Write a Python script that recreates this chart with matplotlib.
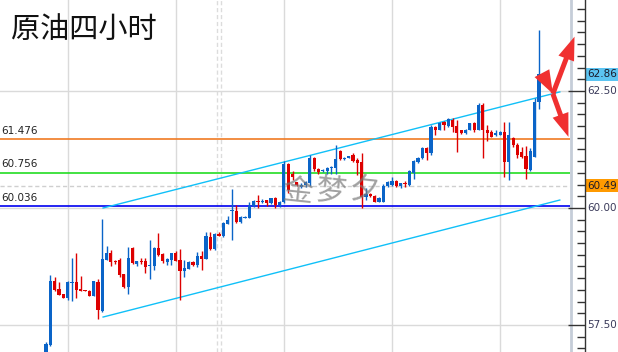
import matplotlib
matplotlib.use('Agg')
import matplotlib.pyplot as plt
from matplotlib.transforms import blended_transform_factory
from matplotlib.patches import Rectangle
import numpy as np

plt.rcParams['font.family'] = ['DejaVu Sans']

# ---------------- data (crude oil, 4-hour bars) ----------------
opens = [56.79, 57.07, 58.44, 58.27, 58.16, 58.08, 58.40, 58.42, 58.27, 58.25,
         58.23, 58.13, 58.42, 57.80, 58.89, 59.04, 58.87, 58.89, 58.59, 58.31,
         59.15, 58.81, 58.87, 58.87, 58.75, 58.75, 59.15, 59.02, 58.85, 58.89,
         59.04, 58.89, 58.66, 58.70, 58.85, 58.78, 58.97, 58.92, 59.39, 59.12,
         59.45, 59.40, 59.66, 59.94, 59.94, 59.70, 59.79, 59.79, 60.04, 60.16,
         60.13, 60.17, 60.10, 60.21, 60.06, 60.13, 60.94, 60.72, 60.55, 60.45,
         60.49, 60.53, 61.06, 60.83, 60.78, 60.78, 60.85, 60.85, 61.22, 61.04,
         61.07, 61.13, 61.03, 60.99, 60.23, 60.30, 60.26, 60.13, 60.13, 60.46,
         60.49, 60.58, 60.47, 60.53, 60.49, 60.74, 60.99, 61.06, 61.28, 61.17,
         61.74, 61.67, 61.84, 61.75, 61.88, 61.75, 61.67, 61.60, 61.67, 61.81,
         61.67, 62.20, 61.67, 61.63, 61.56, 61.56, 61.63, 60.99, 61.49, 61.35,
         61.20, 61.11, 60.81, 61.10, 62.27]
highs = [57.14, 58.56, 58.52, 58.42, 58.16, 58.44, 58.93, 59.04, 58.55, 58.25,
         58.25, 58.45, 58.48, 59.76, 59.19, 59.10, 58.89, 58.93, 58.59, 59.17,
         59.16, 58.87, 58.93, 58.93, 59.31, 59.17, 59.46, 59.03, 58.93, 59.04,
         59.08, 59.12, 58.89, 58.87, 58.87, 59.05, 59.09, 59.49, 59.49, 59.47,
         59.49, 59.70, 59.82, 60.41, 60.06, 59.83, 59.83, 60.12, 60.17, 60.28,
         60.20, 60.17, 60.21, 60.23, 60.15, 61.00, 60.96, 60.78, 60.56, 60.53,
         60.58, 61.13, 61.08, 60.85, 60.83, 60.88, 60.90, 61.35, 61.24, 61.08,
         61.12, 61.17, 61.06, 61.17, 60.42, 60.31, 60.27, 60.23, 60.51, 60.58,
         60.67, 60.59, 60.54, 60.58, 60.81, 61.03, 61.08, 61.30, 61.31, 61.77,
         61.76, 61.83, 61.86, 61.93, 61.92, 61.88, 61.67, 61.68, 61.82, 61.84,
         62.24, 62.24, 61.77, 61.67, 61.67, 61.65, 61.84, 61.84, 61.52, 61.38,
         61.31, 61.32, 61.28, 62.34, 63.80]
lows = [56.71, 57.06, 58.23, 58.14, 58.08, 58.03, 58.02, 58.08, 58.23, 58.22,
        58.13, 58.12, 57.63, 57.78, 58.89, 58.76, 58.80, 58.52, 58.30, 58.17,
        58.81, 58.77, 58.80, 58.62, 58.48, 58.68, 58.98, 58.82, 58.78, 58.79,
        58.86, 58.03, 58.53, 58.69, 58.76, 58.74, 58.68, 58.91, 59.10, 59.10,
        59.41, 59.37, 59.65, 59.32, 59.68, 59.68, 59.78, 59.79, 60.03, 60.01,
        60.10, 60.04, 60.08, 60.01, 60.02, 60.10, 60.32, 60.60, 60.48, 60.42,
        60.45, 60.47, 60.80, 60.72, 60.76, 60.72, 60.72, 60.72, 61.02, 61.03,
        61.06, 60.99, 60.70, 60.01, 60.17, 60.24, 60.12, 60.12, 60.12, 60.45,
        60.48, 60.44, 60.42, 60.44, 60.47, 60.63, 60.97, 61.04, 61.03, 61.13,
        61.55, 61.66, 61.67, 61.73, 61.63, 61.20, 61.58, 61.59, 61.66, 61.63,
        61.66, 61.06, 61.43, 61.52, 61.53, 61.55, 60.67, 60.60, 61.31, 61.06,
        61.06, 60.63, 60.79, 61.08, 62.11]
closes = [57.09, 58.45, 58.25, 58.14, 58.08, 58.42, 58.42, 58.25, 58.23, 58.22,
          58.13, 58.43, 57.81, 58.90, 59.04, 58.85, 58.84, 58.57, 58.31, 58.93,
          58.82, 58.87, 58.85, 58.73, 58.76, 59.15, 59.00, 58.86, 58.91, 59.04,
          58.87, 58.66, 58.72, 58.85, 58.78, 58.97, 58.92, 59.40, 59.12, 59.44,
          59.41, 59.67, 59.74, 59.96, 59.69, 59.81, 59.81, 60.04, 60.16, 60.13,
          60.16, 60.10, 60.21, 60.06, 60.12, 60.94, 60.38, 60.66, 60.50, 60.50,
          60.56, 61.06, 60.83, 60.77, 60.81, 60.86, 60.87, 61.04, 61.04, 61.07,
          61.11, 61.01, 60.96, 60.24, 60.30, 60.26, 60.13, 60.22, 60.46, 60.56,
          60.58, 60.47, 60.53, 60.51, 60.78, 61.00, 61.06, 61.28, 61.17, 61.74,
          61.67, 61.81, 61.77, 61.90, 61.74, 61.60, 61.60, 61.67, 61.81, 61.67,
          62.20, 61.67, 61.60, 61.52, 61.60, 61.63, 60.99, 61.56, 61.35, 61.13,
          61.10, 60.83, 61.22, 62.27, 62.86]

level_prices = [61.476, 60.756, 60.036]
level_labels = ["61.476", "60.756", "60.036"]
level_colors = ["#F07A22", "#22DD22", "#0000F0"]
bid_price = 60.47
axis_ticks = [57.5, 60.0, 62.5]
axis_labels = ["57.50", "60.00", "62.50"]
last_price, last_label = 62.86, "62.86"
mark_price, mark_label = 60.48, "60.49"
grid_bars = [5, 30, 55, 80, 105]
sep_bars = [39.5, 40.5]
# channel (bar index, price)
chan_x = [13.2, 118.8]
chan_upper = [60.00, 62.48]
chan_lower = [57.67, 60.17]
# arrows (bar index, price)
arrow_pivot = (117.2, 62.44)
arrow_from = (114.9, 62.84)
arrow_up = (122.2, 63.66)
arrow_down = (120.8, 61.52)
title = "原油四小时"
watermark = ["金", "梦", "夕"]

W, H = 618, 352
fig = plt.figure(figsize=(W / 100, H / 100), dpi=100)
ax = fig.add_axes([0, 0, 570 / W, 1])
XL = (-10.636, 121.156)
YL = (56.923, 64.444)
ax.set_xlim(*XL)
ax.set_ylim(*YL)
ax.set_axis_off()

# grid
for g in grid_bars:
    ax.axvline(g, color="#dadada", lw=1, zorder=0)
for p in axis_ticks:
    ax.axhline(p, color="#dadada", lw=1, zorder=0)
for s in sep_bars:
    ax.axvline(s, color="#dcdcdc", lw=1, ls=(0, (3, 2)), zorder=0)
ax.axhline(bid_price, color="#cfcfcf", lw=1, ls=(0, (3, 2)), zorder=0)

# horizontal levels
for p, lab, col in zip(level_prices, level_labels, level_colors):
    ax.axhline(p, color=col, lw=1.2, zorder=1)
    ax.text(-10.4, p + 0.07, lab, fontsize=7.5, color="#222222",
            ha="left", va="bottom")

# channel
ax.plot(chan_x, chan_upper, color="#10C0F8", lw=1, zorder=2)
ax.plot(chan_x, chan_lower, color="#10C0F8", lw=1, zorder=2)

# candles
BLUE, RED = "#0A64C8", "#DD0000"
for i, (o, h, l, c) in enumerate(zip(opens, highs, lows, closes)):
    col = BLUE if c >= o else RED
    ax.vlines(i, l, h, color=col, lw=1, zorder=3)
    lo, hi = min(o, c), max(o, c)
    ht = max(hi - lo, 0.022)
    ax.bar(i, ht, bottom=lo, width=0.74, color=col, lw=0, zorder=4)

# watermark
for k, ch in enumerate(watermark):
    fig.text((281 + 33 * k) / W, 1 - 192 / H, ch, fontsize=22, color="#7a7a7a",
             alpha=0.7, family=["Noto Sans CJK SC"], va="center", ha="left",
             rotation=-6, zorder=5)

# title
fig.text(11 / W, 1 - 30 / H, title, fontsize=21, color="#111111",
         family=["Noto Sans CJK SC"], fontweight="light", va="center", ha="left")

# plot right border (drawn beneath the arrows)
fig.add_artist(plt.Line2D([570.5 / W, 570.5 / W], [0, 1], color="#C5CDD8",
                          lw=2, transform=fig.transFigure, zorder=-1))

# arrows
astyle = dict(arrowstyle="simple,head_width=1.0,head_length=1.4,tail_width=0.3",
              color="#F03030", lw=0, mutation_scale=12, shrinkA=0, shrinkB=0)
ax.annotate("", xy=arrow_pivot, xytext=arrow_from, arrowprops=astyle,
            annotation_clip=False, zorder=6)
ax.annotate("", xy=arrow_up, xytext=arrow_pivot, arrowprops=astyle,
            annotation_clip=False, zorder=6)
ax.annotate("", xy=arrow_down, xytext=arrow_pivot, arrowprops=astyle,
            annotation_clip=False, zorder=6)

# price axis
ax2 = fig.add_axes([585 / W, 0, 33 / W, 1])
ax2.set_ylim(*YL)
ax2.set_xlim(0, 1)
for s in ["right", "top", "bottom"]:
    ax2.spines[s].set_visible(False)
ax2.spines["left"].set_color("#333333")
ax2.spines["left"].set_linewidth(1)
ax2.set_xticks([])
ax2.set_yticks(axis_ticks)
minor = [v for v in np.arange(57.0, 64.5, 0.25) if all(abs(v - t) > 1e-6 for t in axis_ticks)]
ax2.set_yticks(minor, minor=True)
ax2.tick_params(axis="y", which="major", direction="out", length=12, width=1,
                color="#333333", labelleft=False)
ax2.tick_params(axis="y", which="minor", direction="out", length=6, width=1,
                color="#333333", labelleft=False)
ax2.patch.set_alpha(0)
tr = blended_transform_factory(ax2.transAxes, ax2.transData)
for p, lab in zip(axis_ticks, axis_labels):
    ax2.text(0.08, p, lab, transform=tr, fontsize=7.5, color="#3A3A5A",
             va="center", ha="left")
bh = 13 / 46.8
ax2.add_patch(Rectangle((0.02, last_price - bh / 2), 1, bh, transform=tr,
                        facecolor="#5CC4F2", edgecolor="none", clip_on=False))
ax2.text(0.08, last_price, last_label, transform=tr, fontsize=7.5,
         color="#1A1A2A", va="center", ha="left")
ax2.add_patch(Rectangle((0.02, mark_price - bh / 2), 1, bh, transform=tr,
                        facecolor="#FF9A00", edgecolor="none", clip_on=False))
ax2.text(0.08, mark_price, mark_label, transform=tr, fontsize=7.5,
         color="#1A1A2A", va="center", ha="left")

fig.savefig("out.png", dpi=100)
